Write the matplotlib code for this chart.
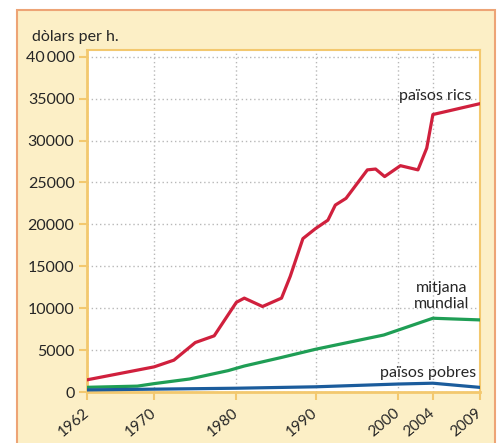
import matplotlib
matplotlib.use('Agg')
import matplotlib.pyplot as plt
import numpy as np
from matplotlib.patches import Rectangle

plt.rcParams['font.family'] = ['Lato', 'DejaVu Sans']

# data (dollars per inhabitant)
rich_years = [1962, 1970, 1972.4, 1975, 1977.3, 1980, 1981, 1983.3, 1985.7, 1986.8,
              1988.4, 1990, 1991.5, 1992.4, 1993.7, 1996.3, 1997.3, 1998.4, 2000.3,
              2002.3, 2003.3, 2004, 2009]
rich_vals = [1450, 3000, 3800, 5900, 6700, 10700, 11200, 10200, 11200, 13800,
             18300, 19500, 20500, 22300, 23100, 26500, 26600, 25700, 27000,
             26500, 29100, 33100, 34400]

world_years = [1962, 1968, 1970, 1974.3, 1979, 1981, 1985.6, 1990, 1998.3, 2004, 2009]
world_vals = [560, 700, 1000, 1550, 2550, 3100, 4100, 5100, 6800, 8800, 8600]

poor_years = [1962, 1980, 1990, 2000, 2004, 2009]
poor_vals = [250, 450, 620, 950, 1050, 550]

tick_years = [1962, 1970, 1980, 1990, 2000, 2004, 2009]
tick_labels = [str(y) for y in tick_years]
# the printed axis is not quite linear: relative spacing of the year ticks
tick_pos = [0, 67, 149, 228, 310, 345, 392]

y_ticks = [0, 5000, 10000, 15000, 20000, 25000, 30000, 35000, 40000]
y_labels = ['0', '5000', '10000', '15000', '20000', '25000', '30000', '35000', '40\u2009000']

red = '#d0203d'
green = '#1f9e55'
blue = '#1b5c9c'
gold = '#f3c86e'
cream = '#fcefc6'
txt = '#262626'

def fwd(x):
    return np.interp(x, tick_years, tick_pos)

def inv(x):
    return np.interp(x, tick_pos, tick_years)

fig = plt.figure(figsize=(4.97, 4.43), dpi=100, facecolor='white')
fig.patches.append(Rectangle((17/497, -0.05), 478/497, 1.05 - 10/443,
                             transform=fig.transFigure, facecolor=cream,
                             edgecolor='#eda476', lw=1.5, zorder=-10))

ax = fig.add_axes([87/497, 51/443, 393/497, 342/443])
ax.set_zorder(1)
ax.set_facecolor('white')
ax.set_xscale('function', functions=(fwd, inv))
ax.set_xlim(1962, 2009)
ax.set_ylim(0, 40800)

ax.plot(rich_years, rich_vals, color=red, lw=2.3, solid_joinstyle='round', zorder=3)
ax.plot(world_years, world_vals, color=green, lw=2.3, solid_joinstyle='round', zorder=3)
ax.plot(poor_years, poor_vals, color=blue, lw=2.3, solid_joinstyle='round', zorder=3)

ax.set_xticks(tick_years)
ax.set_xticklabels(tick_labels, rotation=40, ha='right', va='center',
                   rotation_mode='anchor', fontsize=11, color=txt)
ax.set_yticks(y_ticks)
ax.set_yticklabels(y_labels, fontsize=11.5, color=txt)
ax.tick_params(axis='x', length=6, width=1.5, color=gold, pad=8)
ax.tick_params(axis='y', length=6, width=1.5, color=gold, pad=3)
ax.minorticks_off()

ax.grid(True, color='#b8b8b8', ls=(0, (1, 2)), lw=1)
ax.set_axisbelow(True)
for side in ['left', 'bottom']:
    ax.spines[side].set_color(gold)
    ax.spines[side].set_linewidth(2)
for side in ['top', 'right']:
    ax.spines[side].set_color(gold)
    ax.spines[side].set_linewidth(1.5)

ax.text(2009 - 0.9, 34500, 'països rics', ha='right', va='bottom',
        fontsize=11.5, color=txt)
ax.text(2004.9, 9700, 'mitjana\nmundial', ha='center', va='bottom',
        fontsize=11.5, color=txt, linespacing=1.15)
ax.text(2008.6, 1450, 'països pobres', ha='right', va='bottom',
        fontsize=11.5, color=txt)

fig.text(32/497, 1 - 41/443, 'dòlars per h.', ha='left', va='baseline',
         fontsize=11.5, color=txt)

fig.savefig('out.png', dpi=100, facecolor='white')
